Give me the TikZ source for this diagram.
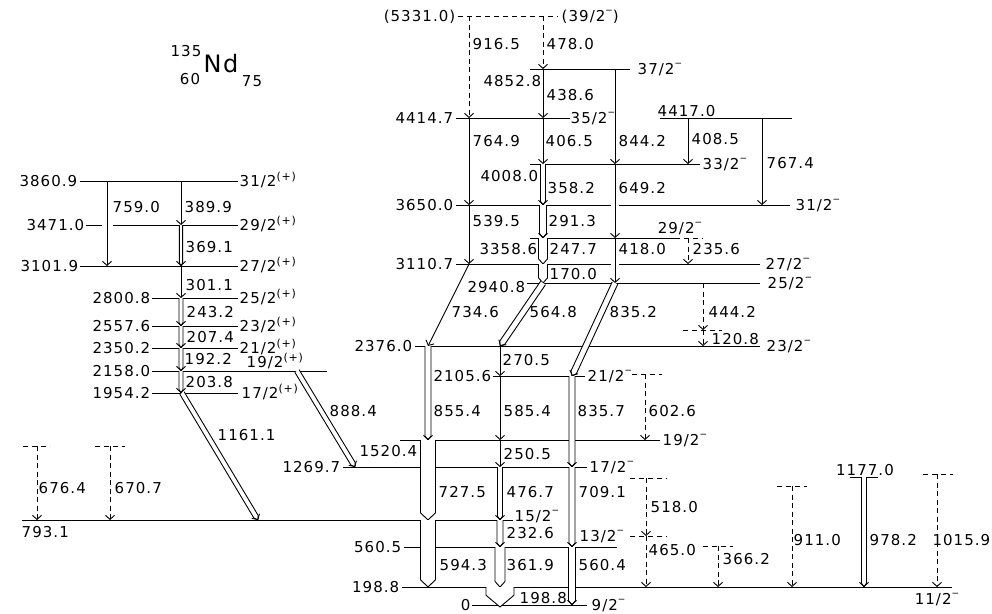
\documentclass[tikz,border=0pt]{standalone}
\usepackage{fontspec}
\setmainfont[LetterSpace=7]{DejaVu Sans}
\usetikzlibrary{arrows.meta,calc}
\newcommand\plusp{\raisebox{0.75ex}{\fontsize{11}{11}\selectfont(+)}}
\newcommand\minusp{\raisebox{0.95ex}{\fontsize{9}{9}\selectfont −}}
\tikzset{
  level/.style={draw, line width=1pt},
  tentative/.style={level, dash pattern=on 5pt off 4pt},
  gam/.style={
    draw,
    line width=0.9pt,
    -{Straight Barb[length=4pt,width=9pt]}
  },
  weakgam/.style={gam, dash pattern=on 5pt off 3.5pt},
  fatgam/.style={draw, fill=white, line width=0.9pt, line join=miter},
  lab/.style={font=\fontsize{15}{17}\selectfont, inner sep=0.5pt,
    text height=10.9pt, text depth=0pt}
}
% outlined (double) gamma arrow: [half width] from, to
\newcommand\dblgam[3][2pt]{%
  \pgfmathsetlengthmacro\gtip{0.7*#1+2pt}
  \path (#2) coordinate (g-s) (#3) coordinate (g-e)
    ($(g-e)!\gtip!(g-s)$) coordinate (g-t);
  \draw[fatgam] ($(g-s)!#1!90:(g-e)$) -- ($(g-t)!#1!90:(g-e)$) -- (g-e)
    -- ($(g-t)!#1!-90:(g-e)$) -- ($(g-s)!#1!-90:(g-e)$);
  \ifdim#1<4pt \draw[gam] ($(g-e)!1pt!(g-s)$) -- (g-e);\fi
}

\begin{document}
\begin{tikzpicture}[x=1pt, y=-1pt]
  \useasboundingbox (0,0) rectangle (992,613);

  % nucleus
  \node[lab] (mass) at (186,51) {135};
  \node[lab, font=\fontsize{24}{26}\selectfont, text height=17pt] (nd) at (221,64) {Nd};
  \node[lab] (zz) at (190,79) {60};
  \node[lab] (nn) at (252,81) {75};

  % level heights
  \coordinate (L3860) at (0,181);
  \coordinate (L3471) at (0,225);
  \coordinate (L3101) at (0,266);
  \coordinate (L2800) at (0,298);
  \coordinate (L2557) at (0,326);
  \coordinate (L2350) at (0,348);
  \coordinate (L2158) at (0,371);
  \coordinate (L1954) at (0,393);
  \coordinate (L5331) at (0,16);
  \coordinate (L4852) at (0,69);
  \coordinate (L4414) at (0,118);
  \coordinate (L4417) at (0,118);
  \coordinate (L4008) at (0,164);
  \coordinate (L3650) at (0,205);
  \coordinate (L3358) at (0,238);
  \coordinate (L3110) at (0,264);
  \coordinate (L2940) at (0,283);
  \coordinate (L2497) at (0,330);
  \coordinate (L2376) at (0,346);
  \coordinate (L2123) at (0,374);
  \coordinate (L2105) at (0,376);
  \coordinate (L1520) at (0,440);
  \coordinate (L1470) at (0,446);
  \coordinate (L1464) at (0,446);
  \coordinate (L1269) at (0,467);
  \coordinate (L1215) at (0,474);
  \coordinate (L1177) at (0,477);
  \coordinate (L1182) at (0,478);
  \coordinate (L1110) at (0,486);
  \coordinate (L793) at (0,520);
  \coordinate (L664) at (0,536);
  \coordinate (L565) at (0,546);
  \coordinate (L560) at (0,547);
  \coordinate (L198) at (0,587);
  \coordinate (L0) at (0,605);

  % levels, band on the left
  \draw[level] (80,0 |- L3860) -- (238,0 |- L3860);
  \draw[level] (86,0 |- L3471) -- (102,0 |- L3471);
  \draw[level] (113,0 |- L3471) -- (238,0 |- L3471);
  \draw[level] (80,0 |- L3101) -- (238,0 |- L3101);
  \draw[level] (152,0 |- L2800) -- (238,0 |- L2800);
  \draw[level] (152,0 |- L2557) -- (238,0 |- L2557);
  \draw[level] (152,0 |- L2350) -- (238,0 |- L2350);
  \draw[level] (152,0 |- L2158) -- (327,0 |- L2158);
  \draw[level] (152,0 |- L1954) -- (238,0 |- L1954);

  % levels, negative parity
  \draw[tentative] (458,0 |- L5331) -- (558,0 |- L5331);
  \draw[level] (530,0 |- L4852) -- (630,0 |- L4852);
  \draw[level] (456,0 |- L4414) -- (570,0 |- L4414);
  \draw[level] (660,0 |- L4417) -- (792,0 |- L4417);
  \draw[level] (530,0 |- L4008) -- (700,0 |- L4008);
  \draw[level] (456,0 |- L3650) -- (611,0 |- L3650);
  \draw[level] (619,0 |- L3650) -- (790,0 |- L3650);
  \draw[level] (530,0 |- L3358) -- (675,0 |- L3358);
  \draw[tentative] (675,0 |- L3358) -- (703,0 |- L3358);
  \draw[level] (456,0 |- L3110) -- (611,0 |- L3110);
  \draw[level] (619,0 |- L3110) -- (760,0 |- L3110);
  \draw[level] (527,0 |- L2940) -- (760,0 |- L2940);
  \draw[tentative] (683,0 |- L2497) -- (722,0 |- L2497);
  \draw[level] (415,0 |- L2376) -- (760,0 |- L2376);
  \draw[level] (493,0 |- L2105) -- (585,0 |- L2105);
  \draw[tentative] (632,0 |- L2123) -- (662,0 |- L2123);
  \draw[level] (400,0 |- L1520) -- (660,0 |- L1520);
  \draw[level] (343,0 |- L1269) -- (587,0 |- L1269);
  \draw[tentative] (630,0 |- L1182) -- (667,0 |- L1182);
  \draw[tentative] (630,0 |- L664) -- (667,0 |- L664);
  \draw[tentative] (23,0 |- L1470) -- (50,0 |- L1470);
  \draw[tentative] (95,0 |- L1464) -- (125,0 |- L1464);
  \draw[level] (22,0 |- L793) -- (513,0 |- L793);
  \draw[level] (404,0 |- L560) -- (617,0 |- L560);
  \draw[tentative] (703,0 |- L565) -- (733,0 |- L565);
  \draw[tentative] (777,0 |- L1110) -- (807,0 |- L1110);
  \draw[level] (850,0 |- L1177) -- (878,0 |- L1177);
  \draw[tentative] (923,0 |- L1215) -- (953,0 |- L1215);
  \draw[level] (402,0 |- L198) -- (952,0 |- L198);
  \draw[level] (472,0 |- L0) -- (587,0 |- L0);

  % transitions, band on the left
  \draw[gam] (107,0 |- L3860) -- (107,0 |- L3101);
  \draw[gam] (181,0 |- L3860) -- (181,0 |- L3471);
  \dblgam[1.6pt]{181,0 |- L3471}{181,0 |- L3101}
  \draw[gam] (181,0 |- L3101) -- (181,0 |- L2800);
  \dblgam{181,0 |- L2800}{181,0 |- L2557}
  \dblgam{181,0 |- L2557}{181,0 |- L2350}
  \dblgam{181,0 |- L2350}{181,0 |- L2158}
  \dblgam{181,0 |- L2158}{181,0 |- L1954}
  \dblgam[2.5pt]{182,0 |- L1954}{258,0 |- L793}
  \dblgam[2.5pt]{297,0 |- L2158}{355,0 |- L1269}
  \draw[weakgam] (37,0 |- L1470) -- (37,0 |- L793);
  \draw[weakgam] (110,0 |- L1464) -- (110,0 |- L793);

  % transitions, negative parity
  \draw[weakgam] (469,0 |- L5331) -- (469,0 |- L4414);
  \draw[weakgam] (543,0 |- L5331) -- (543,0 |- L4852);
  \draw[gam] (543,0 |- L4852) -- (543,0 |- L4414);
  \draw[gam] (615,0 |- L4852) -- (615,0 |- L4008);
  \draw[gam] (469,0 |- L4414) -- (469,0 |- L3650);
  \draw[gam] (543,0 |- L4414) -- (543,0 |- L4008);
  \draw[gam] (688,0 |- L4417) -- (688,0 |- L4008);
  \draw[gam] (762,0 |- L4417) -- (762,0 |- L3650);
  \dblgam[2.5pt]{543,0 |- L4008}{543,0 |- L3650}
  \draw[gam] (615,0 |- L4008) -- (615,0 |- L3358);
  \draw[gam] (469,0 |- L3650) -- (469,0 |- L3110);
  \dblgam[3.5pt]{543,0 |- L3650}{543,0 |- L3358}
  \dblgam[4.5pt]{543,0 |- L3358}{543,0 |- L3110}
  \draw[gam] (615,0 |- L3358) -- (615,0 |- L2940);
  \draw[weakgam] (688,0 |- L3358) -- (688,0 |- L3110);
  \dblgam[4.5pt]{543,0 |- L3110}{543,0 |- L2940}
  \draw[gam] (469,0 |- L3110) -- (428,0 |- L2376);
  \dblgam[3pt]{543,0 |- L2940}{500,0 |- L2376}
  \dblgam[3pt]{615,0 |- L2940}{572,0 |- L2105}
  \draw[weakgam] (703,0 |- L2940) -- (703,0 |- L2497);
  \draw[weakgam] (703,0 |- L2497) -- (703,0 |- L2376);
  \dblgam[3pt]{428,0 |- L2376}{428,0 |- L1520}
  \draw[gam] (500,0 |- L2376) -- (500,0 |- L2105);
  \draw[gam] (500,0 |- L2105) -- (500,0 |- L1520);
  \dblgam[3pt]{572,0 |- L2105}{572,0 |- L1269}
  \draw[weakgam] (645,0 |- L2123) -- (645,0 |- L1520);
  \draw[gam] (500,0 |- L1520) -- (500,0 |- L1269);
  \dblgam[7.5pt]{428,0 |- L1520}{428,0 |- L793}
  \dblgam[2.5pt]{500,0 |- L1269}{500,0 |- L793}
  \dblgam[3pt]{572,0 |- L1269}{572,0 |- L560}
  \draw[weakgam] (646,0 |- L1182) -- (646,0 |- L664);
  \dblgam[3pt]{500,0 |- L793}{500,0 |- L560}
  \draw[weakgam] (646,0 |- L664) -- (646,0 |- L198);
  \dblgam[7.5pt]{428,0 |- L793}{428,0 |- L198}
  \dblgam[5pt]{500,0 |- L560}{500,0 |- L198}
  \dblgam[3.5pt]{572,0 |- L560}{572,0 |- L0}
  \dblgam[14pt]{500,0 |- L198}{500,607}
  \draw[weakgam] (718,0 |- L565) -- (718,0 |- L198);
  \draw[weakgam] (792,0 |- L1110) -- (792,0 |- L198);
  \dblgam[2.5pt]{864,0 |- L1177}{864,0 |- L198}
  \draw[weakgam] (937,0 |- L1215) -- (937,0 |- L198);

  % energies and spins, band on the left
  \node[lab, anchor=east] (e3860) at (78,0 |- L3860) {3860.9};
  \node[lab, anchor=east] (e3471) at (85,0 |- L3471) {3471.0};
  \node[lab, anchor=east] (e3101) at (79,0 |- L3101) {3101.9};
  \node[lab, anchor=east] (e2800) at (151,0 |- L2800) {2800.8};
  \node[lab, anchor=east] (e2557) at (151,0 |- L2557) {2557.6};
  \node[lab, anchor=east] (e2350) at (151,0 |- L2350) {2350.2};
  \node[lab, anchor=east] (e2158) at (151,0 |- L2158) {2158.0};
  \node[lab, anchor=east] (e1954) at (151,0 |- L1954) {1954.2};
  \node[lab, anchor=west] (j3860) at (239,0 |- L3860) {31/2\plusp};
  \node[lab, anchor=west] (j3471) at (239,0 |- L3471) {29/2\plusp};
  \node[lab, anchor=west] (j3101) at (239,0 |- L3101) {27/2\plusp};
  \node[lab, anchor=west] (j2800) at (239,0 |- L2800) {25/2\plusp};
  \node[lab, anchor=west] (j2557) at (239,0 |- L2557) {23/2\plusp};
  \node[lab, anchor=west] (j2350) at (239,0 |- L2350) {21/2\plusp};
  \node[lab, anchor=west] (j2158) at (246,362) {19/2\plusp};
  \node[lab, anchor=west] (j1954) at (241,0 |- L1954) {17/2\plusp};

  % energies and spins, negative parity
  \node[lab, anchor=east] (e5331) at (456,0 |- L5331) {(5331.0)};
  \node[lab, anchor=west] (j5331) at (561,0 |- L5331) {(39/2\minusp)};
  \node[lab, anchor=east] (e4852) at (542,81) {4852.8};
  \node[lab, anchor=west] (j4852) at (637,0 |- L4852) {37/2\minusp};
  \node[lab, anchor=east] (e4414) at (454,0 |- L4414) {4414.7};
  \node[lab, anchor=west] (j4414) at (570,0 |- L4414) {35/2\minusp};
  \node[lab, anchor=west] (e4417) at (657,111) {4417.0};
  \node[lab, anchor=east] (e4008) at (539,176) {4008.0};
  \node[lab, anchor=west] (j4008) at (702,0 |- L4008) {33/2\minusp};
  \node[lab, anchor=east] (e3650) at (454,0 |- L3650) {3650.0};
  \node[lab, anchor=west] (j3650) at (795,0 |- L3650) {31/2\minusp};
  \node[lab, anchor=east] (e3358) at (538,249) {3358.6};
  \node[lab] (j3358) at (680,228) {29/2\minusp};
  \node[lab, anchor=east] (e3110) at (454,0 |- L3110) {3110.7};
  \node[lab, anchor=west] (j3110) at (765,0 |- L3110) {27/2\minusp};
  \node[lab, anchor=east] (e2940) at (526,287) {2940.8};
  \node[lab, anchor=west] (j2940) at (767,0 |- L2940) {25/2\minusp};
  \node[lab, anchor=east] (e2376) at (413,0 |- L2376) {2376.0};
  \node[lab, anchor=west] (j2376) at (766,0 |- L2376) {23/2\minusp};
  \node[lab, anchor=east] (e2105) at (492,0 |- L2105) {2105.6};
  \node[lab, anchor=west] (j2105) at (587,0 |- L2105) {21/2\minusp};
  \node[lab, anchor=east] (e1520) at (418,451) {1520.4};
  \node[lab, anchor=west] (j1520) at (662,0 |- L1520) {19/2\minusp};
  \node[lab, anchor=east] (e1269) at (341,0 |- L1269) {1269.7};
  \node[lab, anchor=west] (j1269) at (589,0 |- L1269) {17/2\minusp};
  \node[lab, anchor=north west] (e793) at (21,526) {793.1};
  \node[lab, anchor=west] (j793) at (514,516) {15/2\minusp};
  \node[lab, anchor=east] (e560) at (402,0 |- L560) {560.5};
  \node[lab, anchor=west] (j560) at (579,536) {13/2\minusp};
  \node[lab, anchor=south] (e1177) at (865,476) {1177.0};
  \node[lab, anchor=east] (e198) at (400,0 |- L198) {198.8};
  \node[lab] (j198) at (937,599) {11/2\minusp};
  \node[lab, anchor=east] (e0) at (471,0 |- L0) {0};
  \node[lab, anchor=west] (j0) at (591,0 |- L0) {9/2\minusp};

  % gamma energies, band on the left
  \node[lab, anchor=west] (t759) at (112,207) {759.0};
  \node[lab, anchor=west] (t390) at (184,207) {389.9};
  \node[lab, anchor=west] (t369) at (185,247) {369.1};
  \node[lab, anchor=west] (t301) at (185,285) {301.1};
  \node[lab, anchor=west] (t243) at (186,312) {243.2};
  \node[lab, anchor=west] (t207) at (186,337) {207.4};
  \node[lab, anchor=west] (t192) at (184,359) {192.2};
  \node[lab, anchor=west] (t204) at (185,382) {203.8};
  \node[lab, anchor=west] (t1161) at (217,435) {1161.1};
  \node[lab, anchor=west] (t888) at (329,411) {888.4};
  \node[lab, anchor=west] (t676) at (38,488) {676.4};
  \node[lab, anchor=west] (t671) at (114,488) {670.7};

  % gamma energies, negative parity
  \node[lab, anchor=west] (t917) at (472,44) {916.5};
  \node[lab, anchor=west] (t478) at (546,44) {478.0};
  \node[lab, anchor=west] (t439) at (546,95) {438.6};
  \node[lab, anchor=west] (t765) at (472,141) {764.9};
  \node[lab, anchor=west] (t407) at (545,141) {406.5};
  \node[lab, anchor=west] (t844) at (618,141) {844.2};
  \node[lab, anchor=west] (t409) at (691,139) {408.5};
  \node[lab, anchor=west] (t767) at (766,163) {767.4};
  \node[lab, anchor=west] (t358) at (547,188) {358.2};
  \node[lab, anchor=west] (t649) at (618,188) {649.2};
  \node[lab, anchor=west] (t540) at (472,221) {539.5};
  \node[lab, anchor=west] (t291) at (548,221) {291.3};
  \node[lab, anchor=west] (t248) at (549,249) {247.7};
  \node[lab, anchor=west] (t418) at (618,249) {418.0};
  \node[lab, anchor=west] (t236) at (692,249) {235.6};
  \node[lab, anchor=west] (t170) at (549,274) {170.0};
  \node[lab, anchor=west] (t735) at (451,312) {734.6};
  \node[lab, anchor=west] (t565) at (529,312) {564.8};
  \node[lab, anchor=west] (t835) at (609,312) {835.2};
  \node[lab, anchor=west] (t444) at (708,312) {444.2};
  \node[lab, anchor=west] (t121) at (711,339) {120.8};
  \node[lab, anchor=west] (t271) at (502,360) {270.5};
  \node[lab, anchor=west] (t855) at (433,411) {855.4};
  \node[lab, anchor=west] (t585) at (503,411) {585.4};
  \node[lab, anchor=west] (t836) at (577,411) {835.7};
  \node[lab, anchor=west] (t603) at (648,411) {602.6};
  \node[lab, anchor=west] (t251) at (503,454) {250.5};
  \node[lab, anchor=west] (t728) at (438,492) {727.5};
  \node[lab, anchor=west] (t477) at (506,492) {476.7};
  \node[lab, anchor=west] (t709) at (578,492) {709.1};
  \node[lab, anchor=west] (t518) at (650,507) {518.0};
  \node[lab, anchor=west] (t233) at (506,533) {232.6};
  \node[lab, anchor=west] (t911) at (793,540) {911.0};
  \node[lab, anchor=west] (t978) at (869,540) {978.2};
  \node[lab, anchor=east] (t1016) at (991,540) {1015.9};
  \node[lab, anchor=west] (t465) at (648,550) {465.0};
  \node[lab, anchor=west] (t366) at (722,559) {366.2};
  \node[lab, anchor=west] (t594) at (439,565) {594.3};
  \node[lab, anchor=west] (t362) at (506,565) {361.9};
  \node[lab, anchor=west] (t560) at (578,565) {560.4};
  \node[lab, anchor=west] (t199) at (519,598) {198.8};
\end{tikzpicture}
\end{document}
